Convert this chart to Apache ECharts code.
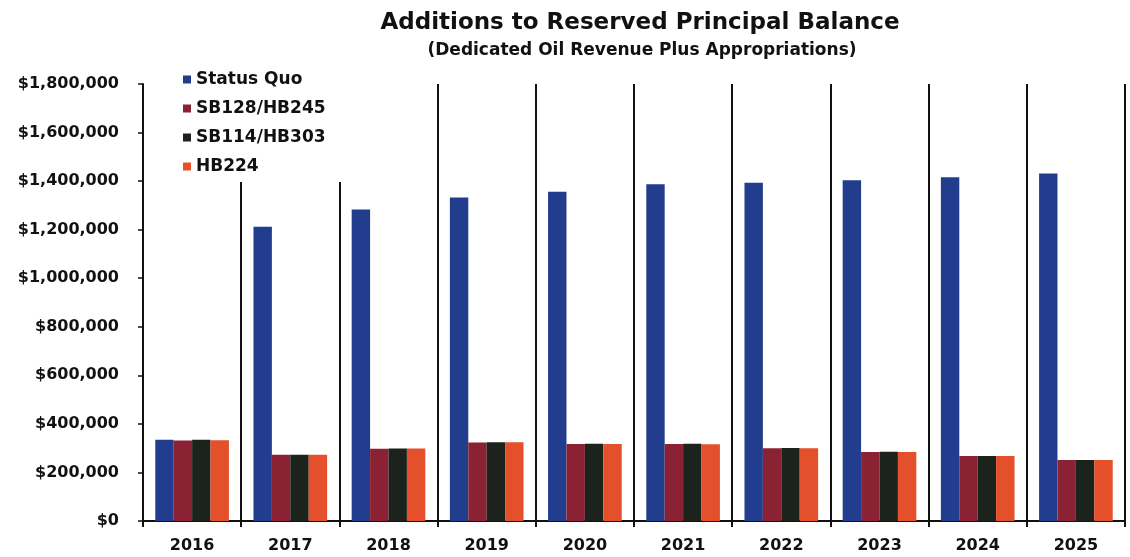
<!DOCTYPE html>
<html>
<head>
<meta charset="utf-8">
<script src="https://cdn.jsdelivr.net/npm/echarts@6/dist/echarts.min.js"></script>
<style>
  html, body { margin: 0; padding: 0; background: #fff; }
  #chart { width: 1130px; height: 557px; }
</style>
</head>
<body>
<div id="chart"></div>
<script>
var categories = ['2016', '2017', '2018', '2019', '2020', '2021', '2022', '2023', '2024', '2025'];
var seriesNames = ['Status Quo', 'SB128/HB245', 'SB114/HB303', 'HB224'];
var statusQuo = [335000, 1212000, 1283000, 1333000, 1356000, 1387000, 1393000, 1404000, 1416000, 1431000];
var sb128hb245 = [332000, 273000, 298000, 323000, 317000, 317000, 300000, 284000, 268000, 251000];
var sb114hb303 = [335000, 273000, 299000, 324000, 318000, 318000, 301000, 285000, 268000, 251000];
var hb224 = [333000, 273000, 299000, 324000, 317000, 316000, 300000, 284000, 268000, 251000];
var yTicks = [0, 200000, 400000, 600000, 800000, 1000000, 1200000, 1400000, 1600000, 1800000];

var font = 'DejaVu Sans';
var colors = ['#223d8e', '#8a2233', '#1b231c', '#e4502c'];

var chart = echarts.init(document.getElementById('chart'));

// one bar series per bill
var series = [statusQuo, sb128hb245, sb114hb303, hb224].map(function (vals, i) {
    return {
        name: seriesNames[i],
        type: 'bar',
        data: vals,
        barGap: 0,
        barCategoryGap: '25%',
        itemStyle: { color: colors[i] }
    };
});

chart.setOption({
    animation: false,
    backgroundColor: '#fff',
    color: colors,
    title: [{
        text: 'Additions to Reserved Principal Balance',
        left: 635,
        top: 7,
        textAlign: 'center',
        textStyle: { fontFamily: font, fontSize: 23, fontWeight: 'bold', color: '#111' }
    }, {
        text: '(Dedicated Oil Revenue Plus Appropriations)',
        left: 637,
        top: 37,
        textAlign: 'center',
        textStyle: { fontFamily: font, fontSize: 17, fontWeight: 'bold', color: '#111' }
    }],
    legend: {
        orient: 'vertical',
        left: 173,
        top: 61,
        padding: [10, 18, 7, 10],
        backgroundColor: '#fff',
        itemWidth: 8,
        itemHeight: 8,
        itemGap: 12,
        icon: 'rect',
        data: seriesNames,
        textStyle: { fontFamily: font, fontSize: 17, fontWeight: 'bold', color: '#111', lineHeight: 16 }
    },
    grid: {
        left: 143,
        right: 5,
        top: 84,
        bottom: 36
    },
    xAxis: {
        type: 'category',
        data: categories,
        axisLine: { lineStyle: { color: '#111', width: 2 } },
        axisTick: { show: true, length: 6, lineStyle: { color: '#111', width: 2 } },
        splitLine: { show: true, lineStyle: { color: '#111', width: 2 } },
        axisLabel: { margin: 17, fontFamily: font, fontSize: 16, fontWeight: 'bold', color: '#111' }
    },
    yAxis: {
        type: 'value',
        min: yTicks[0],
        max: yTicks[yTicks.length - 1],
        interval: yTicks[1] - yTicks[0],
        axisLine: { show: true, lineStyle: { color: '#111', width: 2 } },
        axisTick: { show: true, length: 5, lineStyle: { color: '#111', width: 1.5 } },
        splitLine: { show: false },
        axisLabel: {
            margin: 24,
            fontFamily: font,
            fontSize: 16,
            fontWeight: 'bold',
            color: '#111',
            formatter: function (v) {
                return '$' + v.toLocaleString('en-US');
            }
        }
    },
    series: series
});
</script>
</body>
</html>
